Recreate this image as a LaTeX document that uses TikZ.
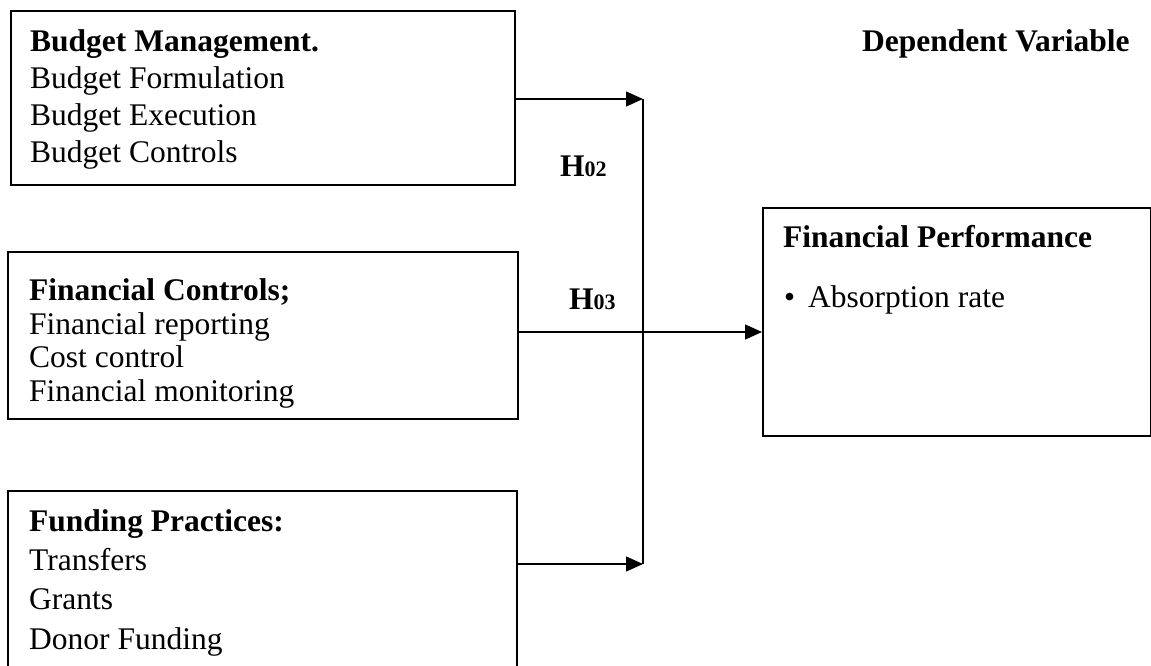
\documentclass[tikz,border=0pt]{standalone}
\usepackage{fontspec}
\setmainfont{Liberation Serif}
\usetikzlibrary{arrows.meta}
\begin{document}
\begin{tikzpicture}[x=1pt,y=-1pt,
  box/.style={draw,line width=2.2pt,rectangle,inner sep=0pt,anchor=north west},
  txt/.style={anchor=base west,inner sep=0pt,font=\fontsize{31.5}{36}\selectfont},
  head/.style={anchor=base west,inner sep=0pt,font=\fontsize{31.5}{36}\selectfont\bfseries},
  conn/.style={line width=1.3pt},
  arr/.style={conn,-{Triangle[length=17pt,width=15pt]}}]
\clip (0,0) rectangle (1151,666);
% boxes
\node[box,minimum width=504pt,minimum height=174pt] (b1) at (10,10) {};
\node[box,minimum width=510pt,minimum height=167pt] (b2) at (7,251) {};
\node[box,minimum width=509pt,minimum height=220pt] (b3) at (7,490) {};
\node[box,minimum width=388pt,minimum height=228pt] (b4) at (762,207) {};
% texts box 1
\node[head] (t11) at (30,52) {Budget Management.};
\node[txt] (t12) at (30,89) {Budget Formulation};
\node[txt] (t13) at (30,126) {Budget Execution};
\node[txt] (t14) at (30,163) {Budget Controls};
% texts box 2
\node[head] (t21) at (29,300) {Financial Controls;};
\node[txt] (t22) at (29,334) {Financial reporting};
\node[txt] (t23) at (29,367) {Cost control};
\node[txt] (t24) at (29,401) {Financial monitoring};
% texts box 3
\node[head] (t31) at (29,531) {Funding Practices:};
\node[txt] (t32) at (29,570) {Transfers};
\node[txt] (t33) at (29,609) {Grants};
\node[txt] (t34) at (29,649) {Donor Funding};
% box 4
\node[head] (t41) at (783,247) {Financial Performance};
\node[txt] (t42) at (784,307) {\makebox[24pt][l]{•}Absorption rate};
\node[head] (dv) at (862,52) {Dependent Variable};
% hypothesis labels
\node[head] (h2) at (560,176) {H{\fontsize{22}{22}\selectfont 02}};
\node[head] (h3) at (569,309) {H{\fontsize{22}{22}\selectfont 03}};
% connectors
\coordinate (j1) at (643,99);
\coordinate (j3) at (643,564);
\draw[arr] (b1.east |- j1) -- (j1);
\draw[conn] (j1) -- (j3);
\draw[arr] (b3.east |- j3) -- (j3);
\draw[arr] (b2.east |- 0,332) -- (b4.west |- 0,332);
\end{tikzpicture}
\end{document}
